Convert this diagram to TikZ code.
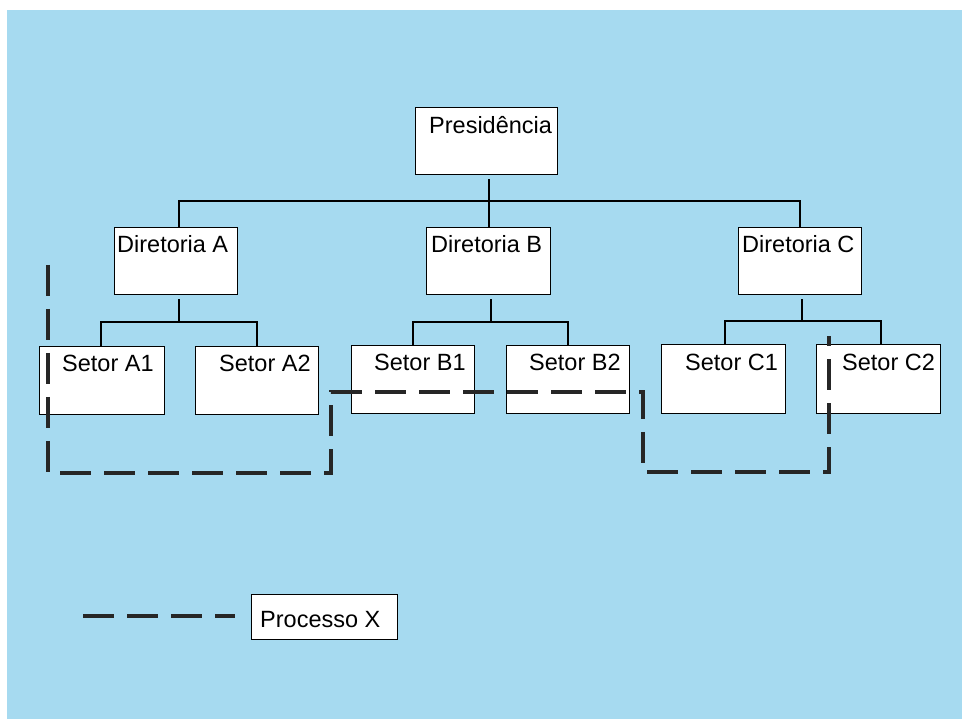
\documentclass[tikz,border=0pt]{standalone}
\usepackage{fontspec}
\setmainfont{Liberation Sans}
\begin{document}
\begin{tikzpicture}[x=1pt,y=-1pt,
  box/.style={draw=black,line width=1.4pt,fill=white,inner sep=0pt,anchor=north west},
  lbl/.style={anchor=base west,inner sep=0pt,font=\fontsize{23.5}{28}\selectfont},
  wire/.style={draw=black,line width=1.3pt},
  proc/.style={draw=black!85,line width=4pt,dash pattern=on 31pt off 13pt}]
\useasboundingbox (0,0) rectangle (962,719);
% paper and blue sheet
\fill[white] (0,0) rectangle (962,719);
\fill[fill={rgb,255:red,166;green,218;blue,240}] (7,10) rectangle (962,719);

% boxes: top left corner, width, height
\node[box,minimum width=142pt,minimum height=67pt] (pres) at (415,107) {};
\node[box,minimum width=123pt,minimum height=67pt] (dA) at (114,227) {};
\node[box,minimum width=124pt,minimum height=67pt] (dB) at (426,227) {};
\node[box,minimum width=123pt,minimum height=67pt] (dC) at (738,227) {};
\node[box,minimum width=125pt,minimum height=68pt] (sA1) at (39,346) {};
\node[box,minimum width=123pt,minimum height=68pt] (sA2) at (195,346) {};
\node[box,minimum width=123pt,minimum height=68pt] (sB1) at (351,345) {};
\node[box,minimum width=123pt,minimum height=68pt] (sB2) at (506,345) {};
\node[box,minimum width=124pt,minimum height=69pt] (sC1) at (661,344) {};
\node[box,minimum width=124pt,minimum height=69pt] (sC2) at (816,344) {};
\node[box,minimum width=146pt,minimum height=45pt] (leg) at (251,594) {};

% labels
\node[lbl] (tPres) at (429,134) {Presidência};
\node[lbl] (tA) at (117,253) {Diretoria A};
\node[lbl] (tB) at (431,253) {Diretoria B};
\node[lbl] (tC) at (742,253) {Diretoria C};
\node[lbl] (tA1) at (62,372) {Setor A1};
\node[lbl] (tA2) at (219,372) {Setor A2};
\node[lbl] (tB1) at (374,371) {Setor B1};
\node[lbl] (tB2) at (529,371) {Setor B2};
\node[lbl] (tC1) at (685,371) {Setor C1};
\node[lbl] (tC2) at (842,371) {Setor C2};
\node[lbl] (tLeg) at (260,627) {Processo X};

% bus points of the tree
\coordinate (busP) at (489,201);
\coordinate (kA) at (179,201);
\coordinate (kC) at (800,201);
\coordinate (busA) at (179,322);
\coordinate (busB) at (491,322);
\coordinate (busC) at (802,321);
\coordinate (kA1) at (101,322);
\coordinate (kA2) at (257,322);
\coordinate (kB1) at (413,322);
\coordinate (kB2) at (568,322);
\coordinate (kC1) at (725,321);
\coordinate (kC2) at (881,321);

% presidency to directorates
\draw[wire,shorten <=4pt] (busP |- pres.south) -- (busP);
\draw[wire] (dA.north -| kA) -- (kA) -- (kC) -- (dC.north -| kC);
\draw[wire] (busP) -- (busP |- dB.north);

% directorates to sectors
\draw[wire,shorten <=4pt] (busA |- dA.south) -- (busA);
\draw[wire] (sA1.north -| kA1) -- (kA1) -- (kA2) -- (sA2.north -| kA2);
\draw[wire,shorten <=4pt] (busB |- dB.south) -- (busB);
\draw[wire] (sB1.north -| kB1) -- (kB1) -- (kB2) -- (sB2.north -| kB2);
\draw[wire,shorten <=4pt] (busC |- dC.south) -- (busC);
\draw[wire] (sC1.north -| kC1) -- (kC1) -- (kC2) -- (sC2.north -| kC2);

% route of process X
\coordinate (p0) at (48,265);
\coordinate (p1) at (48,473);
\coordinate (p2) at (331,473);
\coordinate (p3) at (331,392);
\coordinate (p4) at (643,392);
\coordinate (p5) at (643,472);
\coordinate (p6) at (829,472);
\coordinate (p7) at (829,336);
\draw[proc] (p0) -- (p1) -- (p2) -- (p3) -- (p4) -- (p5) -- (p6) -- (p7);

% legend sample line
\coordinate (l0) at (83,616);
\coordinate (l1) at (235,616);
\draw[proc] (l0) -- (l1);
\end{tikzpicture}
\end{document}
